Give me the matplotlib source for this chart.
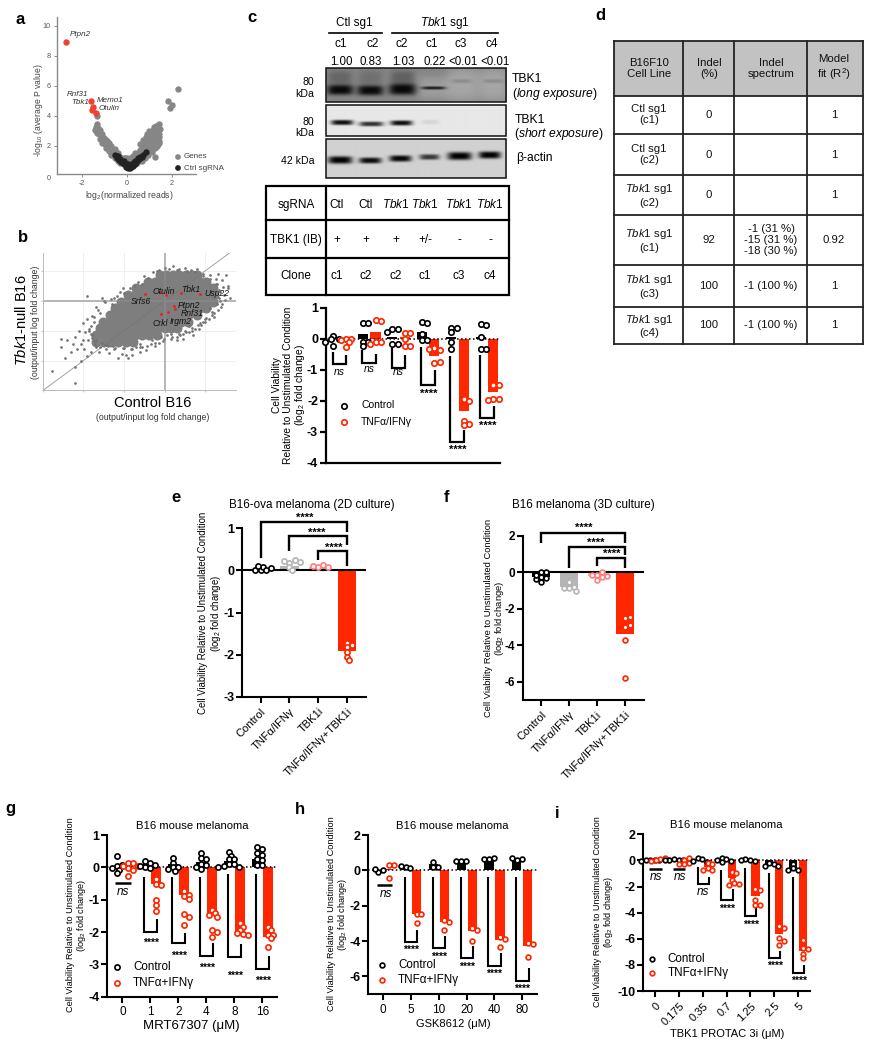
import numpy as np
import matplotlib
matplotlib.use("Agg")
import matplotlib.pyplot as plt
from matplotlib.patches import Rectangle

plt.rcParams['font.family'] = ['Liberation Sans', 'DejaVu Sans']
plt.rcParams['mathtext.fontset'] = 'custom'
plt.rcParams['mathtext.rm'] = 'Liberation Sans'
plt.rcParams['mathtext.it'] = 'Liberation Sans:italic'
plt.rcParams['mathtext.bf'] = 'Liberation Sans:bold'
plt.rcParams['mathtext.default'] = 'regular'
plt.rcParams['axes.unicode_minus'] = False

W, H = 872, 1050
RED = '#ff2600'
PT = 72 / 100.0  # points per pixel

# ---------- DATA ----------
# panel a
A_GENE_X = [-1.35,-1.45,-1.3,-1.2,-1.35,-1.25,-1.1,-1.2,-1.05,-0.95,-1.1,-1.0,-0.9,-0.8,-0.95,-0.85,-0.7,-0.8,-0.65,-0.55,-0.7,-0.6,
            -0.5,-0.4,-0.55,-0.45,-0.3,-0.4,-0.25,-0.3,-0.15,-0.2,-0.1,0.0,0.05,0.12,0.2,0.25,0.3,0.4,0.35,0.5,0.45,0.6,0.55,0.65,0.75,0.7,
            0.85,0.8,0.95,0.9,1.0,1.05,0.95,1.1,1.15,1.05,1.2,1.25,1.15,1.3,1.25,1.35,1.3,1.4,1.35,1.45,1.4,1.45,1.4,1.0,0.85,0.75,
            1.25,1.85,2.0,1.9,2.3,-1.35,
            -1.4,-1.28,-1.15,-1.02,-0.88,-0.75,-0.62,-0.48,-0.36,-0.22,-0.1,0.02,0.15,0.28,0.42,0.55,0.68,0.8,0.92,1.02,1.12,1.22,1.32,
            0.62,0.72,0.85,0.98,1.08,1.18,1.28,1.38,0.5,0.4,0.58,0.7,0.88,1.1,1.22,1.42,
            0.65,0.8,0.95,1.1,1.25,1.35,1.45,1.05,1.2,1.3,1.42,1.48]
A_GENE_Y = [3.45,3.05,3.2,3.05,2.85,2.75,2.75,2.45,2.5,2.4,2.2,2.1,2.3,2.2,1.85,1.95,2.0,1.65,1.8,1.75,1.4,1.45,
            1.55,1.5,1.2,1.25,1.25,1.0,1.15,0.85,1.2,0.85,1.15,1.2,0.85,1.1,0.7,1.3,1.0,1.2,1.5,1.35,0.85,1.7,1.1,2.0,1.75,1.25,
            2.1,1.5,2.5,1.7,2.7,2.2,1.9,2.6,2.95,2.4,3.1,2.8,2.1,3.3,2.4,3.1,2.75,3.35,2.55,3.45,2.95,2.6,2.1,3.0,2.6,2.2,
            1.25,5.0,4.7,4.5,5.8,4.0,
            3.25,2.95,2.6,2.3,2.0,1.75,1.55,1.35,1.1,0.95,1.0,1.05,1.2,1.15,1.35,1.55,1.45,1.75,2.05,2.45,2.35,2.6,2.95,
            1.3,1.55,1.9,2.15,2.05,2.3,2.55,2.75,1.05,1.0,2.1,2.4,2.75,3.0,3.25,2.3,
            0.95,1.15,1.4,1.6,1.85,2.0,2.15,1.8,2.0,2.2,2.75,3.1]
A_CTRL_X = [-0.55,-0.45,-0.35,-0.25,-0.15,-0.05,0.05,0.15,0.25,0.35,0.45,0.55,0.65,0.72,0.83,-0.3,-0.15,-0.05,0.05,0.15,0.25,0.35,0.1,-0.42,0.5,-0.2,0.0,0.2,0.3,0.42,0.6]
A_CTRL_Y = [1.4,1.2,1.05,0.9,0.75,0.6,0.5,0.5,0.65,0.8,0.95,1.1,1.25,1.35,1.6,1.1,0.95,0.8,0.75,0.7,0.85,1.0,0.6,1.3,1.2,0.85,0.6,0.6,0.75,0.9,1.25]
A_HIT_X = [-2.73,-1.6,-1.5,-1.55,-1.4]
A_HIT_Y = [8.9,5.0,4.6,4.35,4.15]

# panel b
B_CORE_Y = [0.86,0.63,0.41,0.19,-0.03,-0.26,-0.48,-0.70,-0.92,-1.14,-1.37]
B_CORE_X = [
 [-0.12,0.04,0.20,0.36,0.52,0.68,0.78],
 [-0.41,-0.25,-0.09,0.07,0.23,0.39,0.55,0.71,0.87,1.02],
 [-0.70,-0.54,-0.38,-0.22,-0.06,0.10,0.26,0.42,0.58,0.74,0.90,1.06,1.19],
 [-0.90,-0.74,-0.58,-0.42,-0.26,-0.10,0.06,0.22,0.38,0.54,0.70,0.86,1.02,1.20],
 [-1.07,-0.90,-0.74,-0.58,-0.42,-0.26,-0.10,0.06,0.22,0.38,0.54,0.70,0.86,1.02,1.18],
 [-1.23,-1.07,-0.90,-0.74,-0.58,-0.42,-0.26,-0.10,0.06,0.22,0.38,0.54,0.70,0.86,1.02],
 [-1.35,-1.20,-1.04,-0.88,-0.72,-0.56,-0.40,-0.24,-0.08,0.08,0.24,0.40,0.56,0.78],
 [-1.52,-1.36,-1.20,-1.04,-0.88,-0.72,-0.56,-0.40,-0.24,-0.08,0.08,0.24,0.40,0.57],
 [-1.60,-1.44,-1.28,-1.12,-0.96,-0.80,-0.64,-0.48,-0.32,-0.16,0.0,0.16,0.29],
 [-1.68,-1.52,-1.36,-1.20,-1.04,-0.88,-0.72,-0.56,-0.40,-0.20],
 [-1.68,-1.50,-1.32,-1.14,-0.96,-0.78],
]
B_FRINGE_X = [-2.78,-2.2,-2.2,-2.45,-2.3,-2.55,-2.15,-2.4,-2.55,-2.2,-2.0,-1.95,-2.1,-2.0,-1.85,-1.8,-1.75,-1.9,-1.91,-1.55,-1.7,-1.6,-1.5,
              -1.78,-1.72,-1.88,-2.05,-1.98,-1.82,-1.9,-1.7,-1.78,-2.05,-2.25,-1.62,-1.45,-1.38,-1.25,-1.15,-1.0,-0.95,-0.8,-0.7,-0.6,-0.9,
              -1.25,-1.1,-1.3,-1.02,-0.55,-0.75,-0.42,-0.2,0.0,0.2,0.35,0.5,0.65,0.8,0.95,1.1,1.25,1.3,1.4,1.5,1.55,1.45,1.6,1.35,1.4,1.3,1.1,
              1.2,0.9,1.0,0.75,0.6,0.45,0.3,0.15,-0.05,-0.25,-0.45,-0.6,1.55,1.48,1.38,1.42,1.28,1.36,1.22,1.15,0.98,0.82,0.68,0.5,0.35,
              -0.1,0.05,0.15,0.3,0.45,0.6,0.7,0.85,0.95,1.08,-0.35,-0.55,-0.8,-1.05,-1.28,-1.45,-1.58,-1.72,-1.85,-0.15,-0.32,
              -1.0,-0.85,-0.65,-0.5,-0.3,-0.15,0.1,0.3,0.55,0.75,0.95,1.12,1.26,1.32,1.34,1.28,1.15,1.02,0.86,0.68,0.52,0.38,0.18,
              -0.02,-0.24,-0.44,-0.62,-0.84,-1.02,-1.22,-1.4,-1.55,-1.7,-1.82,-1.82,-1.75,-1.65,-1.48,-1.32,-1.18]
B_FRINGE_Y = [-2.35,-2.75,-2.2,-1.9,-1.7,-1.55,-1.6,-1.3,-1.28,-1.2,-1.3,-1.05,-1.0,-0.75,-0.95,-0.5,-0.7,-0.6,0.15,0.1,-0.2,-0.4,0.0,
              -1.15,-1.45,-1.3,-1.45,-1.62,-1.7,-1.85,-1.55,-1.25,-2.0,-1.45,-1.7,-1.6,-1.75,-1.62,-1.9,-1.58,-1.8,-1.62,-1.55,-1.45,-1.9,
              0.1,0.3,-0.1,0.42,0.55,0.5,0.75,0.98,1.08,1.15,1.05,1.1,1.02,1.05,0.9,0.85,0.72,0.9,0.7,0.85,0.5,0.2,0.1,0.3,-0.1,-0.3,-0.25,
              -0.4,-0.8,-0.6,-0.95,-0.85,-1.1,-1.2,-1.28,-1.35,-1.5,-1.65,-1.72,0.42,0.02,-0.22,0.45,0.55,-0.02,-0.55,-0.48,-0.72,-0.82,-1.0,-1.0,-1.12,
              -1.22,-1.15,-1.1,-1.3,-1.28,-1.05,-1.15,-0.95,-0.7,-0.62,-1.45,-1.55,-1.8,-1.78,-1.5,-1.48,-1.55,-1.35,-1.0,-1.42,-1.3,
              0.25,0.42,0.62,0.82,0.95,1.02,1.05,1.02,0.98,0.95,0.82,0.72,0.55,0.35,0.1,-0.12,-0.38,-0.58,-0.75,-0.92,-1.05,-1.15,-1.2,
              -1.28,-1.4,-1.5,-1.55,-1.6,-1.58,-1.58,-1.5,-1.42,-1.3,-1.1,-0.85,-0.55,-0.3,-0.05,0.05,0.15]
B_HIT_X = [-0.49,-0.12,0.02,0.39,0.86,0.22,0.25,0.07,-0.10]
B_HIT_Y = [0.22,0.30,0.19,0.24,0.22,-0.18,-0.27,-0.39,-0.46]

# panel c
C_CTRL_MEAN = [-0.02,0.15,0.07,0.20,0.06,0.05]
C_TNF_MEAN = [-0.03,0.20,0.05,-0.55,-2.33,-1.72]
C_CTRL_PTS = [[0.10,0.0,-0.02,-0.10,-0.25],[0.52,0.52,-0.10,-0.10,-0.25],[0.30,0.32,0.20,-0.18,-0.18],
              [0.55,0.52,0.16,-0.05,-0.05],[0.35,0.35,0.20,-0.10,-0.32],[0.47,0.45,-0.33,-0.33,0.05]]
C_TNF_PTS = [[0.0,0.0,-0.03,-0.12,-0.28],[0.60,0.57,-0.12,-0.10,-0.17],[0.18,0.18,0.0,-0.22,-0.22],
             [-0.30,-0.35,-0.80,-0.75,-0.32],[-1.95,-2.0,-2.65,-2.75,-2.8],[-1.50,-1.50,-1.93,-1.95,-1.98]]
C_BR_TOP = [-0.43,-0.38,-0.29,-0.27,-0.56,-0.54]
C_BR_BOT = [-0.83,-0.77,-0.94,-1.50,-3.33,-2.55]
C_BR_END = [-0.52,-0.50,-0.54,-1.02,-2.96,-2.18]
C_SIG = ['ns','ns','ns','****','****','****']
C_SIG_Y = [-1.07,-0.99,-1.07,-1.77,-3.58,-2.80]

# panels e and f
EF_CATS = ['Control','TNFα/IFNγ','TBK1i','TNFα/IFNγ+TBK1i']
E_MEAN = [0.03,0.10,0.08,-1.92]
E_PTS = [[0.0,0.08,0.02,0.10,0.0,0.05],[0.18,0.25,0.08,0.22,0.20,0.0],[0.07,0.14,0.10,0.07],[-1.72,-1.83,-1.78,-1.95,-2.05,-2.13]]
F_MEAN = [-0.25,-0.80,-0.20,-3.40]
F_PTS = [[-0.55,-0.24,0.0,-0.30,0.0,-0.37,-0.15],[-0.88,-0.50,-0.82,-0.88,-1.0],[-0.15,-0.42,0.0,-0.15,-0.27,-0.20],[-2.52,-2.43,-3.0,-2.89,-3.7,-5.77]]

# panel g
G_CATS = ['0','1','2','4','8','16']
G_CTRL_MEAN = [0.0,0.10,0.10,0.15,0.20,0.25]
G_TNF_MEAN = [0.03,-0.50,-0.85,-1.45,-2.05,-2.15]
G_CTRL_PTS = [[0.36,0.04,0.07,-0.03,-0.08,-0.19],[0.20,0.12,0.02,0.04,-0.03,0.08],[0.28,0.14,0.0,0.02,-0.06,-0.11],
              [0.45,0.28,0.25,0.10,0.08,-0.06,0.0],[0.46,0.36,0.25,0.25,0.10,0.10,0.04,0.02,0.02],[0.64,0.56,0.43,0.38,0.25,0.23,0.07,0.07]]
G_TNF_PTS = [[0.12,0.12,0.04,-0.03,0.04,-0.08,-0.27],[-0.37,-0.52,-0.55,-1.0,-1.17,-1.34],[-0.73,-0.90,-0.86,-0.99,-1.45,-1.53,-1.77],
             [-1.32,-1.42,-1.47,-1.53,-1.94,-1.99,-2.14],[-1.71,-1.83,-1.94,-2.06,-2.04,-2.09],[-1.84,-1.94,-2.09,-2.09,-2.20,-2.45]]
G_BR_TOP = [-0.29,-0.31,-0.31,-0.21,-0.21]
G_BR_BOT = [-1.99,-2.35,-2.73,-2.78,-3.15]
G_BR_END = [-1.61,-2.02,-2.35,-2.38,-2.74]
G_STAR_Y = [-2.33,-2.74,-3.12,-3.34,-3.52]

# panel h
H_CATS = ['0','5','10','20','40','80']
H_CTRL_MEAN = [-0.02,0.20,0.35,0.55,0.65,0.65]
H_TNF_MEAN = [0.10,-2.50,-2.90,-3.45,-3.95,-4.30]
H_CTRL_PTS = [[-0.12,0.0,0.05],[0.20,0.15,0.25],[0.20,0.20,0.45],[0.50,0.50,0.50],[0.65,0.70,0.65],[0.60,0.65,0.70]]
H_TNF_PTS = [[0.30,0.30,-0.45],[-2.50,-2.50,-3.0],[-2.80,-2.90,-3.35],[-3.25,-3.35,-4.0],[-3.80,-3.90,-4.35],[-4.10,-4.15,-4.90]]
H_BR_TOP = [-0.40,-0.40,-0.40,-0.40,-0.40]
H_BR_BOT = [-4.04,-4.42,-4.98,-5.40,-6.25]
H_BR_END = [-3.38,-3.70,-4.28,-4.70,-5.55]
H_STAR_Y = [-4.52,-4.90,-5.46,-5.88,-6.73]

# panel i
I_CATS = ['0','0.175','0.35','0.7','1.25','2.5','5']
I_CTRL_MEAN = [0.0,0.0,0.0,0.0,0.0,-0.40,-0.60]
I_TNF_MEAN = [0.0,-0.15,-0.50,-1.35,-2.75,-5.65,-6.90]
I_CTRL_PTS = [[0.05,0.05,0.05,0.0,-0.05],[0.10,0.05,0.0,0.05,0.0],[0.15,0.10,-0.05,-0.10],[0.20,0.10,0.0,-0.10,-0.05],
              [0.10,0.05,0.0,-0.05],[-0.20,-0.30,-0.40,-0.45],[-0.30,-0.60,-0.75,-0.75]]
I_TNF_PTS = [[0.10,0.15,0.05,0.0,-0.05],[0.0,0.15,-0.20,-0.30,-0.30],[-0.20,-0.30,-0.60,-0.75,-0.75],[-0.90,-1.0,-1.5,-1.75,-1.85,-1.80],
             [-2.20,-2.30,-3.0,-3.40,-3.45],[-5.0,-5.15,-5.95,-6.15,-6.50],[-6.10,-6.70,-6.80,-7.20,-7.50]]
I_BR_TOP = [-0.48,-0.74,-0.60,-1.00,-1.30]
I_BR_BOT = [-1.84,-3.04,-4.26,-7.45,-8.60]
I_BR_END = [-1.30,-2.22,-3.42,-6.94,-8.00]
I_SIG = ['ns','****','****','****','****']
I_SIG_Y = [-2.42,-3.68,-4.90,-8.10,-9.25]

# tables
C_TAB_ROWS = [('sgRNA',['Ctl','Ctl',r'$\mathit{Tbk1}$',r'$\mathit{Tbk1}$',r'$\mathit{Tbk1}$',r'$\mathit{Tbk1}$']),
              ('TBK1 (IB)',['+','+','+','+/-','-','-']),
              ('Clone',['c1','c2','c2','c1','c3','c4'])]
C_CLONES = ['c1','c2','c2','c1','c3','c4']
C_RATIOS = ['1.00','0.83','1.03','0.22','<0.01','<0.01']
D_ROWS = [['B16F10\nCell Line','Indel\n(%)','Indel\nspectrum','Model\nfit (R$^2$)'],
          ['Ctl sg1\n(c1)','0','','1'],
          ['Ctl sg1\n(c2)','0','','1'],
          [r'$\mathit{Tbk1}$ sg1'+'\n(c2)','0','','1'],
          [r'$\mathit{Tbk1}$ sg1'+'\n(c1)','92','-1 (31 %)\n-15 (31 %)\n-18 (30 %)','0.92'],
          [r'$\mathit{Tbk1}$ sg1'+'\n(c3)','100','-1 (100 %)','1'],
          [r'$\mathit{Tbk1}$ sg1'+'\n(c4)','100','-1 (100 %)','1']]

# ---------- LAYOUT HELPERS ----------
fig = plt.figure(figsize=(W/100, H/100), dpi=100, facecolor='white')
ov = fig.add_axes([0, 0, 1, 1], zorder=10)
ov.patch.set_alpha(0)
ov.axis('off')


def T(x, y, s, size=7, ha='center', va='center', **kw):
    return ov.text(x, y, s, fontsize=size, ha=ha, va=va, **kw)


def L(xs, ys, lw=1.5, c='k', **kw):
    ov.plot(xs, ys, color=c, lw=lw, solid_capstyle='projecting', **kw)


def make_ax(left, right, top, bottom, xlim, ylim):
    ax = fig.add_axes([left/W, 1-bottom/H, (right-left)/W, (bottom-top)/H])
    ax.set_xlim(*xlim)
    ax.set_ylim(*ylim)
    ax.patch.set_alpha(0)
    ax.spines[['top', 'right']].set_visible(False)
    return ax


def style(ax, yticks, size=9, lw=1.5, xticks=None, xlabels=None, xsize=8, rot=0):
    ax.spines[['left', 'bottom']].set_linewidth(lw)
    ax.set_yticks(yticks)
    ax.set_yticklabels([str(v) for v in yticks], fontsize=size, fontweight='bold')
    ax.tick_params(axis='y', length=4, width=lw, pad=1.5)
    if xticks is None:
        ax.set_xticks([])
    else:
        ax.set_xticks(xticks)
        if rot:
            ax.set_xticklabels(xlabels, fontsize=xsize, rotation=rot, ha='right', rotation_mode='anchor')
        else:
            ax.set_xticklabels(xlabels, fontsize=xsize)
        ax.tick_params(axis='x', length=4, width=lw, pad=3)


def swarm(ys, center, ax, dia):
    """Dodge equal-valued points sideways as a bee-swarm does."""
    bb = ax.get_position()
    sx = bb.width*W/(ax.get_xlim()[1]-ax.get_xlim()[0])
    sy = bb.height*H/(ax.get_ylim()[1]-ax.get_ylim()[0])
    placed, xs = [], []
    for v in ys:
        k = 0
        while True:
            off = 0 if k == 0 else ((k+1)//2)*(1 if k % 2 else -1)*dia*0.5
            if all(np.hypot(off-p[0], (v-p[1])*sy) >= dia*0.78 for p in placed):
                break
            k += 1
        placed.append((off, v))
        xs.append(center+off/sx)
    return xs


def dots(ax, pts, center, color, dia=5.6, lw=1.7):
    xs = swarm(pts, center, ax, dia)
    ax.scatter(xs, pts, s=(dia*PT)**2, facecolor='white', edgecolor=color, linewidth=lw*PT, zorder=4, clip_on=False)


def bracket(ax, xl, yl, yb, xr, yr, lw=1.5):
    ax.plot([xl, xl, xr, xr], [yl, yb, yb, yr], color='k', lw=lw, zorder=3, clip_on=False,
            solid_joinstyle='miter', solid_capstyle='butt')


def grouped(ax, ctrl_mean, tnf_mean, ctrl_pts, tnf_pts, off, bw, dia=5.6):
    idx = np.arange(len(ctrl_mean))
    ax.bar(idx-off, ctrl_mean, bw, color='k', zorder=2)
    ax.bar(idx+off, tnf_mean, bw, color=RED, zorder=2)
    ax.axhline(0, color='k', lw=1.1, ls=(0, (1, 1.6)), zorder=3)
    for i in idx:
        dots(ax, ctrl_pts[i], i-off, 'k', dia)
        dots(ax, tnf_pts[i], i+off, RED, dia)


def legend_keys(xk, y1, y2, xt, lab2, size, dia=5.6):
    ov.scatter([xk], [y1], s=(dia*PT)**2, facecolor='white', edgecolor='k', linewidth=1.7*PT)
    ov.scatter([xk], [y2], s=(dia*PT)**2, facecolor='white', edgecolor=RED, linewidth=1.7*PT)
    T(xt, y1, 'Control', size, ha='left')
    T(xt, y2, lab2, size, ha='left')


# ---------- PANEL a ----------
axa = make_ax(57, 195.7, 17, 174, (-3.13, 3.07), (0.1, 10.57))
axa.scatter(A_GENE_X, A_GENE_Y, s=21, color='#868686', linewidth=0, zorder=2)
axa.scatter(A_CTRL_X, A_CTRL_Y, s=21, color='#222222', linewidth=0, zorder=3)
axa.scatter(A_HIT_X, A_HIT_Y, s=21, color='#f04030', linewidth=0, zorder=4)
axa.spines[['left', 'bottom']].set_color('#8a8a8a')
axa.spines[['left', 'bottom']].set_linewidth(1.0)
axa.set_xticks([-2, 0, 2])
axa.set_xticklabels(['-2', '0', '2'], fontsize=5.2, color='#555555')
axa.set_yticks([2, 4, 6, 8, 10])
axa.set_yticklabels(['2', '4', '6', '8', '10'], fontsize=5.2, color='#555555')
axa.tick_params(length=2, width=0.7, color='#8a8a8a', pad=2.5)
T(49, 179, '0', 5.2, color='#555555')
T(129, 195, 'log$_2$(normalized reads)', 6.2, color='#444444')
T(38, 110, '-log$_{10}$ (average P value)', 6.2, rotation=90, color='#444444')
for x, y, s, ha in [(70, 34, 'Ptpn2', 'left'), (88, 94, 'Rnf31', 'right'), (97, 100, 'Memo1', 'left'),
                    (89, 103, 'Tbk1', 'right'), (99, 108, 'Otulin', 'left')]:
    T(x, y, s, 5.8, ha=ha, style='italic', color='#333333')
ov.scatter([178, 178], [157, 168], s=17, color=['#868686', '#222222'], linewidth=0)
T(184, 157, 'Genes', 5.8, ha='left', color='#444444')
T(184, 168, 'Ctrl sgRNA', 5.8, ha='left', color='#444444')
T(20, 20, 'a', 12, fontweight='bold')

# ---------- PANEL b ----------
axb = make_ax(42.7, 236, 252.7, 390, (-3.0, 1.75), (-2.98, 1.6))
for v in [-3, -2, -1, 1]:
    axb.axvline(v, color='#ececec', lw=0.6, zorder=0)
for v in [-2, -1, 1]:
    axb.axhline(v, color='#ececec', lw=0.6, zorder=0)
axb.axvline(0, color='#bdbdbd', lw=1.3, zorder=1)
axb.axhline(0, color='#bdbdbd', lw=1.3, zorder=1)
cx = [x for row in B_CORE_X for x in row]
cy = [y for y, row in zip(B_CORE_Y, B_CORE_X) for _ in row]
axb.scatter(cx, cy, s=52, color='#7e7e7e', linewidth=0, zorder=2)
axb.scatter(B_FRINGE_X, B_FRINGE_Y, s=3.8, color='#737373', linewidth=0, zorder=2)
axb.axline((0, 0), slope=1, color='#b8b8b8', lw=0.6, zorder=1.5)
axb.axline((0, 0), slope=1, color='#6a6a6a', lw=0.5, zorder=2.5, alpha=0.4)
axb.axvline(0, color='#9a9a9a', lw=1.2, zorder=2.4, alpha=0.35)
axb.axhline(0, color='#9a9a9a', lw=1.2, zorder=2.4, alpha=0.35)
axb.scatter(B_HIT_X, B_HIT_Y, s=4, color='#ee1c1c', linewidth=0, zorder=3)
axb.spines[['left', 'bottom']].set_color('#bbbbbb')
axb.spines[['left', 'bottom']].set_linewidth(0.7)
axb.set_xticks([-3, -2, -1, 0, 1])
axb.set_yticks([-2, -1, 0, 1])
axb.set_xticklabels([])
axb.set_yticklabels([])
axb.tick_params(length=1.5, width=0.5, color='#aaaaaa')
for x, y, s in [(164, 291, 'Otulin'), (191, 289, 'Tbk1'), (217, 294, 'Usp22'), (141, 302, 'Srfs6'),
                (189, 306, 'Ptpn2'), (192, 313, 'Rnf31'), (181, 321, 'Irgm2'), (160, 323, 'Crkl')]:
    T(x, y, s, 6.2, style='italic', color='#111111')
T(21, 320, r'$\mathit{Tbk1}$-null B16', 10.5, rotation=90)
T(35, 322, '(output/input log fold change)', 6.3, rotation=90, color='#333333')
T(153, 403, 'Control B16', 10.5)
T(153, 417, '(output/input log fold change)', 6.3, color='#333333')
T(23, 237, 'b', 12, fontweight='bold')

# ---------- PANEL c: labels and blots ----------
T(252, 17, 'c', 12, fontweight='bold')
T(354, 23, 'Ctl sg1', 8.5)
T(445, 23, r'$\mathit{Tbk1}$ sg1', 8.5)
L([329, 382], [33, 33], 1.2)
L([392, 498], [33, 33], 1.2)
for x, s in zip([341, 373, 402, 432, 461, 492], C_CLONES):
    T(x, 44, s, 8.5)
for x, s in zip([341, 371, 403, 435, 463, 495], C_RATIOS):
    T(x, 62, s, 8.3)


def blot(x0, x1, y0, y1, bg, bands):
    xx, yy = np.meshgrid(np.linspace(x0, x1, int((x1-x0)*3)), np.linspace(y0, y1, int((y1-y0)*3)))
    im = np.full(xx.shape, float(bg))
    for cx_, cy_, w_, h_, d_ in bands:
        im -= d_*np.exp(-np.abs((xx-cx_)/w_)**4)*np.exp(-np.abs((yy-cy_)/h_)**3)
    ov.imshow(np.clip(im, 0, 1), extent=(x0, x1, y1, y0), cmap='gray', vmin=0, vmax=1, aspect='auto', zorder=1)
    ov.add_patch(Rectangle((x0, y0), x1-x0, y1-y0, fill=False, ec='#111111', lw=1.1, zorder=2))


blot(326, 506, 68, 102, 0.52, [(340, 90, 13, 5, 0.48), (370, 90.5, 13, 5, 0.48), (402, 89.5, 13.5, 5.5, 0.48),
                               (340, 78, 12, 8, 0.12), (370, 78, 12, 8, 0.08), (402, 78, 12, 8, 0.14),
                               (433, 88, 12, 1.6, 0.5), (433, 88, 16, 12, -0.10), (462, 85, 16, 18, -0.13), (493, 85, 16, 18, -0.13),
                               (461, 81, 10, 2, 0.10), (493, 81, 10, 2, 0.10)])
blot(326, 506, 105, 136, 0.91, [(342, 122.5, 11, 2.6, 0.85), (371, 124, 12, 2.4, 0.72), (401, 123, 11, 2.6, 0.85), (430, 122, 9, 2.4, 0.07)])
blot(326, 506, 139, 178, 0.82, [(340, 160, 12, 3.8, 0.82), (370, 160.5, 11, 3.0, 0.78), (400, 158.5, 11, 3.2, 0.8),
                                (429, 157, 10, 2.8, 0.6), (459, 156, 12, 4, 0.82), (489, 155, 11, 3.6, 0.82)])
ov.set_xlim(0, W)
ov.set_ylim(H, 0)
T(512, 79, 'TBK1', 8.7, ha='left')
T(512, 94, r'($\mathit{long\ exposure}$)', 8.7, ha='left')
T(515, 120, 'TBK1', 8.7, ha='left')
T(514, 134, r'($\mathit{short\ exposure}$)', 8.7, ha='left')
T(516, 158, 'β-actin', 8.7, ha='left')
for y, s in [(82, '80'), (94, 'kDa'), (122, '80'), (133, 'kDa'), (161, '42 kDa')]:
    T(314, y, s, 7.6, ha='right')

# table under the blots
LW_T = 1.6
ov.add_patch(Rectangle((266, 186), 243, 109, fill=False, ec='k', lw=LW_T, zorder=3))
L([326, 326], [186, 295], LW_T)
L([266, 509], [220, 220], LW_T)
L([266, 509], [258, 258], LW_T)
for ry, (head, vals) in zip([205, 240, 276], C_TAB_ROWS):
    T(296, ry, head, 8.5)
    for x, s in zip([337, 366, 396, 425, 459, 490], vals):
        T(x, ry, s, 8.5)

# ---------- PANEL c: chart ----------
axc = make_ax(325.7, 500, 307.7, 462.7, (-0.475, 5.44), (-4, 1))
style(axc, [1, 0, -1, -2, -3, -4], size=9, lw=1.6)
grouped(axc, C_CTRL_MEAN, C_TNF_MEAN, C_CTRL_PTS, C_TNF_PTS, 0.215, 0.34, dia=5.4)
for i in range(6):
    bracket(axc, i-0.24, C_BR_TOP[i], C_BR_BOT[i], i+0.22, C_BR_END[i], 1.6)
    if C_SIG[i] == 'ns':
        axc.text(i, C_SIG_Y[i], 'ns', fontsize=7.5, style='italic', ha='center', va='center')
    else:
        axc.text(i+0.02, C_SIG_Y[i], '****', fontsize=8, fontweight='bold', ha='center', va='center')
legend_keys(344, 405.5, 422, 361, 'TNFα/IFNγ', 7.5, dia=5.4)
T(277, 385, 'Cell Viability', 7.4, rotation=90)
T(288, 385, 'Relative to Unstimulated Condition', 7.4, rotation=90)
T(300, 385, '(log$_2$ fold change)', 7.4, rotation=90)

# ---------- PANEL d ----------
T(600, 16, 'd', 12, fontweight='bold')
XS = [614, 683, 734, 807, 862.7]
YS = [40.7, 95.7, 134, 175, 215, 265, 307, 344]
ov.add_patch(Rectangle((XS[0], YS[0]), XS[-1]-XS[0], YS[1]-YS[0], fc='#c2c2c2', ec='none', zorder=1))
for x in XS:
    L([x, x], [YS[0], YS[-1]], 1.3, c='#222222', zorder=2)
for y in YS:
    L([XS[0], XS[-1]], [y, y], 1.3, c='#222222', zorder=2)
COLX = [649, 709, 771, 834]
for i, row in enumerate(D_ROWS):
    ym = (YS[i]+YS[i+1])/2
    for x, s in zip(COLX, row):
        if s:
            T(x, ym, s, 8.2, linespacing=1.15, color='#111111')

# ---------- PANEL e ----------
COLS = ['k', '#b5b5b5', '#ff8080', RED]
axe = make_ax(242.3, 365.7, 528.3, 696.7, (-0.64, 3.66), (-3, 1))
style(axe, [1, 0, -1, -2, -3], size=9, lw=1.5, xticks=range(4), xlabels=EF_CATS, xsize=8, rot=45)
axe.bar(range(4), E_MEAN, 0.64, color=['k', '#b5b5b5', '#ffb0b0', RED], zorder=2)
axe.axhline(0, color='k', lw=1.5, zorder=3)
for i in range(4):
    dots(axe, E_PTS[i], i, COLS[i], 5.2)
for xl, yl, yb, yr in [(0, 0.29, 1.14, 0.92), (1, 0.45, 0.81, 0.61), (2, 0.25, 0.47, 0.11)]:
    bracket(axe, xl, yl, yb, 3, yr, 1.7)
for x, y in [(1.52, 1.24), (1.95, 0.89), (2.53, 0.53)]:
    axe.text(x, y, '****', fontsize=8, fontweight='bold', ha='center', va='center')
T(311.7, 505, 'B16-ova melanoma (2D culture)', 8.4)
T(203, 613, 'Cell Viability Relative to Unstimulated Condition', 6.9, rotation=90)
T(216, 613, '(log$_2$ fold change)', 6.9, rotation=90)
T(175.7, 498, 'e', 12, fontweight='bold')

# ---------- PANEL f ----------
axf = make_ax(522.7, 644, 536, 700, (-0.654, 3.68), (-7, 2))
style(axf, [2, 0, -2, -4, -6], size=8.5, lw=1.5, xticks=range(4), xlabels=EF_CATS, xsize=8, rot=45)
axf.bar(range(4), F_MEAN, 0.64, color=['k', '#b5b5b5', '#ffb0b0', RED], zorder=2)
axf.axhline(0, color='k', lw=1.5, zorder=3)
for i in range(4):
    dots(axf, F_PTS[i], i, COLS[i], 4.8)
for xl, yl, yb, yr in [(0, 1.64, 2.14, 1.64), (1, 0.22, 1.41, 0.95), (2, 0.35, 0.80, 0.27)]:
    bracket(axf, xl, yl, yb, 3, yr, 1.7)
for x, y in [(1.54, 2.45), (1.96, 1.64), (2.53, 1.0)]:
    axf.text(x, y, '****', fontsize=8, fontweight='bold', ha='center', va='center')
T(583, 505, 'B16 melanoma (3D culture)', 8.4)
T(488, 618, 'Cell Viability Relative to Unstimulated Condition', 6.75, rotation=90)
T(499.5, 618, '(log$_2$ fold change)', 6.75, rotation=90)
T(446.7, 497, 'f', 12, fontweight='bold')

# ---------- PANEL g ----------
axg = make_ax(107.3, 276.7, 835, 996.7, (-0.536, 5.51), (-4, 1))
style(axg, [1, 0, -1, -2, -3, -4], size=9, lw=1.5, xticks=range(6), xlabels=G_CATS, xsize=8.5)
grouped(axg, G_CTRL_MEAN, G_TNF_MEAN, G_CTRL_PTS, G_TNF_PTS, 0.2, 0.36, dia=5.2)
axg.plot([-0.26, 0.31], [-0.47, -0.47], color='k', lw=1.8, solid_capstyle='butt')
axg.text(0.01, -0.75, 'ns', fontsize=8.5, style='italic', ha='center', va='center')
for i in range(5):
    bracket(axg, i+1-0.22, G_BR_TOP[i], G_BR_BOT[i], i+1+0.23, G_BR_END[i], 1.5)
    axg.text(i+1+0.03, G_STAR_Y[i], '****', fontsize=7.5, fontweight='bold', ha='center', va='center')
legend_keys(117, 967, 982.7, 133, 'TNFα+IFNγ', 8.4, dia=5.2)
T(192.7, 825.7, 'B16 mouse melanoma', 8.1)
T(191.7, 1026, 'MRT67307 (μM)', 9.5)
T(70, 915, 'Cell Viability Relative to Unstimulated Condition', 6.6, rotation=90)
T(81.7, 915, '(log$_2$ fold change)', 6.6, rotation=90)
T(10, 808, 'g', 12, fontweight='bold')

# ---------- PANEL h ----------
axh = make_ax(368.3, 537, 835, 994, (-0.54, 5.53), (-7, 2))
style(axh, [2, 0, -2, -4, -6], size=9, lw=1.5, xticks=range(6), xlabels=H_CATS, xsize=8.5)
grouped(axh, H_CTRL_MEAN, H_TNF_MEAN, H_CTRL_PTS, H_TNF_PTS, 0.2, 0.33, dia=4.8)
axh.plot([-0.24, 0.32], [-0.83, -0.83], color='k', lw=1.8, solid_capstyle='butt')
axh.text(0.08, -1.34, 'ns', fontsize=8.5, style='italic', ha='center', va='center')
for i in range(5):
    bracket(axh, i+1-0.22, H_BR_TOP[i], H_BR_BOT[i], i+1+0.23, H_BR_END[i], 1.5)
    axh.text(i+1, H_STAR_Y[i], '****', fontsize=7.5, fontweight='bold', ha='center', va='center')
legend_keys(381.7, 965, 980, 398, 'TNFα+IFNγ', 8.4, dia=4.8)
T(452.7, 825.7, 'B16 mouse melanoma', 8.1)
T(453.3, 1024, 'GSK8612 (μM)', 8)
T(331, 914, 'Cell Viability Relative to Unstimulated Condition', 6.6, rotation=90)
T(342.7, 914, '(log$_2$ fold change)', 6.6, rotation=90)
T(300, 810, 'h', 12, fontweight='bold')

# ---------- PANEL i ----------
axi = make_ax(643.3, 810, 834.3, 991, (-0.5, 6.5), (-10, 2))
style(axi, [2, 0, -2, -4, -6, -8, -10], size=9, lw=1.5, xticks=range(7), xlabels=I_CATS, xsize=8, rot=45)
grouped(axi, I_CTRL_MEAN, I_TNF_MEAN, I_CTRL_PTS, I_TNF_PTS, 0.21, 0.34, dia=4.6)
for i in [0, 1]:
    axi.plot([i-0.27, i+0.27], [-0.69, -0.69], color='k', lw=1.8, solid_capstyle='butt')
    axi.text(i+0.02, -1.25, 'ns', fontsize=8.5, style='italic', ha='center', va='center')
for i in range(5):
    bracket(axi, i+2-0.22, I_BR_TOP[i], I_BR_BOT[i], i+2+0.25, I_BR_END[i], 1.5)
    if I_SIG[i] == 'ns':
        axi.text(i+2, I_SIG_Y[i], 'ns', fontsize=8.5, style='italic', ha='center', va='center')
    else:
        axi.text(i+2+0.02, I_SIG_Y[i], '****', fontsize=7.5, fontweight='bold', ha='center', va='center')
legend_keys(652, 959, 973, 667.7, 'TNFα+IFNγ', 8.4, dia=4.6)
T(726, 825, 'B16 mouse melanoma', 8.1)
T(726.7, 1034, 'TBK1 PROTAC 3i (μM)', 8)
T(597, 912, 'Cell Viability Relative to Unstimulated Condition', 6.5, rotation=90)
T(608, 912, '(log$_2$ fold change)', 6.5, rotation=90)
T(556.7, 813, 'i', 12, fontweight='bold')

ov.set_xlim(0, W)
ov.set_ylim(H, 0)
fig.savefig('out.png', dpi=100)
